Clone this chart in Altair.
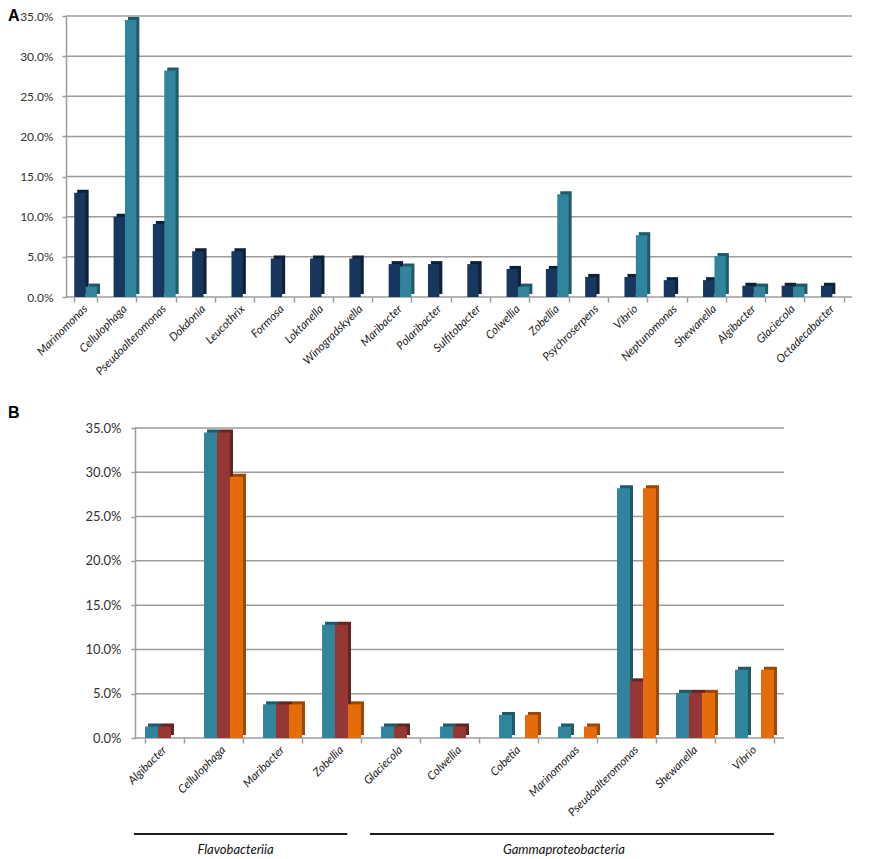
import altair as alt
import pandas as pd

panel_letters = ["A", "B"]

# ---- Panel A data (percent) ----
genera_A = ["Marinomonas", "Cellulophaga", "Pseudoalteromonas", "Dokdonia", "Leucothrix",
            "Formosa", "Loktanella", "Winogradskyella", "Maribacter", "Polaribacter",
            "Sulfitobacter", "Colwellia", "Zobellia", "Psychroserpens", "Vibrio",
            "Neptunomonas", "Shewanella", "Algibacter", "Glaciecola", "Octadecabacter"]
navy_A = [13.0, 10.0, 9.1, 5.7, 5.7, 4.8, 4.8, 4.8, 4.1, 4.1,
          4.1, 3.5, 3.5, 2.5, 2.5, 2.1, 2.1, 1.4, 1.4, 1.4]
teal_A = [1.3, 34.5, 28.2, 0, 0, 0, 0, 0, 3.8, 0,
          0, 1.3, 12.8, 0, 7.7, 0, 5.1, 1.3, 1.3, 0]
series_A = ["Series 1", "Series 2"]

# ---- Panel B data (percent) ----
genera_B = ["Algibacter", "Cellulophaga", "Maribacter", "Zobellia", "Glaciecola", "Colwellia",
            "Cobetia", "Marinomonas", "Pseudoalteromonas", "Shewanella", "Vibrio"]
teal_B = [1.3, 34.5, 3.8, 12.8, 1.3, 1.3, 2.6, 1.3, 28.2, 5.1, 7.7]
red_B = [1.3, 34.5, 3.8, 12.8, 1.3, 1.3, 0, 0, 6.4, 5.1, 0]
orange_B = [0, 29.5, 3.8, 3.8, 0, 0, 2.6, 1.3, 28.2, 5.1, 7.7]
series_B = ["Series 1", "Series 2", "Series 3"]

# ---- class brackets under panel B ----
class_names = ["Flavobacteriia", "Gammaproteobacteria"]
class_first = ["Algibacter", "Glaciecola"]
class_last = ["Zobellia", "Vibrio"]
class_label_at = ["Cellulophaga", "Marinomonas"]
# where inside the band the bracket ends / the label sits
class_end_band = [0.65, 1.0]
class_label_band = [0.81, 0.15]

y_ticks = [0, 0.05, 0.10, 0.15, 0.20, 0.25, 0.30, 0.35]

front_A = ["#17375E", "#31849B"]
side_A = ["#0D2038", "#20596A"]
front_B = ["#31849B", "#953735", "#E46C0A"]
side_B = ["#20596A", "#632523", "#984807"]

FONT = "Lato"
GRID = "#9c9c9c"
LETTER_X = -58


def to_long(genera, series, cols):
    rows = []
    for s, vals in zip(series, cols):
        for g, v in zip(genera, vals):
            rows.append({"genus": g, "series": s, "value": v / 100.0})
    return pd.DataFrame(rows)


def panel(df, genera, series, front, side, plot_w, left_shift, height, pad_inner,
          xlabel_size, ylabel_size, ylabel_pad, letter, letter_y):
    step = plot_w / len(genera)
    bw = step * (1 - pad_inner)
    total_w = plot_w + left_shift
    xscale = alt.Scale(domain=genera, range=[left_shift, total_w],
                       paddingInner=pad_inner, paddingOuter=pad_inner / 2)
    xaxis = alt.Axis(title=None, labelAngle=-45, labelAlign="right", labelBaseline="middle",
                     labelFont=FONT, labelFontStyle="italic", labelFontSize=xlabel_size,
                     labelColor="#1a1a1a", labelPadding=5, tickBand="extent", tickSize=5,
                     tickColor=GRID, tickWidth=1.5, domain=False, grid=False)
    yscale = alt.Scale(domain=[0, 0.35])
    yaxis = alt.Axis(title=None, format=".1%", values=y_ticks, labelFont=FONT,
                     labelFontSize=ylabel_size, labelColor="#333333", labelPadding=ylabel_pad,
                     tickSize=4, tickColor=GRID, tickWidth=1.5, domainColor=GRID, domainWidth=1.5,
                     grid=False, offset=-left_shift)
    x = alt.X("genus:N", scale=xscale, axis=xaxis)
    y = alt.Y("value:Q", scale=yscale, axis=yaxis)

    grid = alt.Chart(pd.DataFrame({"tick": y_ticks})).mark_rule(
        color=GRID, strokeWidth=1.5
    ).encode(
        y=alt.Y("tick:Q", scale=yscale, axis=yaxis),
        x=alt.value(left_shift),
        x2=alt.value(total_w),
    )
    base = alt.Chart(df)
    # darker "depth" face drawn behind each bar, shifted right and up
    sides = base.mark_bar(yOffset=-3).encode(
        x=x, y=y,
        xOffset=alt.XOffset("series:N", scale=alt.Scale(domain=series, range=[3, bw + 3])),
        color=alt.Color("series:N", scale=alt.Scale(domain=series, range=side), legend=None),
    )
    fronts = base.mark_bar().encode(
        x=x, y=y,
        xOffset=alt.XOffset("series:N", scale=alt.Scale(domain=series, range=[0, bw])),
        color=alt.Color("series:N", scale=alt.Scale(domain=series, range=front), legend=None),
    )
    letter_layer = alt.Chart(pd.DataFrame({"letter": [letter]})).mark_text(
        font="Liberation Sans", fontWeight="bold", fontSize=16, align="left",
        baseline="middle", color="#000000"
    ).encode(text="letter:N", x=alt.value(LETTER_X), y=alt.value(letter_y))
    return [grid, sides, fronts, letter_layer], xscale, xaxis, total_w


df_A = to_long(genera_A, series_A, [navy_A, teal_A])
df_B = to_long(genera_B, series_B, [teal_B, red_B, orange_B])

H_A = 281
H_B = 310

layers_A, _, _, TW_A = panel(df_A, genera_A, series_A, front_A, side_A, 786, 0, H_A, 0.42,
                             11.5, 12, 9, panel_letters[0], 0)
chart_A = alt.layer(*layers_A).resolve_scale(color="independent", xOffset="independent").properties(
    width=TW_A, height=H_A)

layers_B, xscale_B, xaxis_B, TW_B = panel(df_B, genera_B, series_B, front_B, side_B, 649, 69, H_B,
                                          0.34, 11.5, 13, 10, panel_letters[1], -15)

classes_df = pd.DataFrame({"cls": class_names, "first": class_first, "last": class_last,
                           "label_at": class_label_at})
extra = []
for name, end_b, lab_b in zip(class_names, class_end_band, class_label_band):
    sub = alt.Chart(classes_df).transform_filter(alt.datum.cls == name)
    extra.append(sub.mark_rule(color="#1a1a1a", strokeWidth=2, xOffset=-11).encode(
        x=alt.X("first:N", bandPosition=0, scale=xscale_B, axis=xaxis_B),
        x2=alt.X2("last:N", bandPosition=end_b),
        y=alt.value(H_B + 96),
    ))
    extra.append(sub.mark_text(
        font=FONT, fontStyle="italic", fontSize=13, color="#111111", align="center",
        baseline="middle"
    ).encode(
        x=alt.X("label_at:N", bandPosition=lab_b, scale=xscale_B, axis=xaxis_B),
        y=alt.value(H_B + 112),
        text="cls:N",
    ))

chart_B = alt.layer(*layers_B, *extra).resolve_scale(
    color="independent", xOffset="independent").properties(width=TW_B, height=H_B)

chart = alt.vconcat(chart_A, chart_B, spacing=27, padding=0).configure(
    background="white").configure_view(strokeWidth=0)

chart.save("out.html", embed_options={"renderer": "svg", "actions": False})
